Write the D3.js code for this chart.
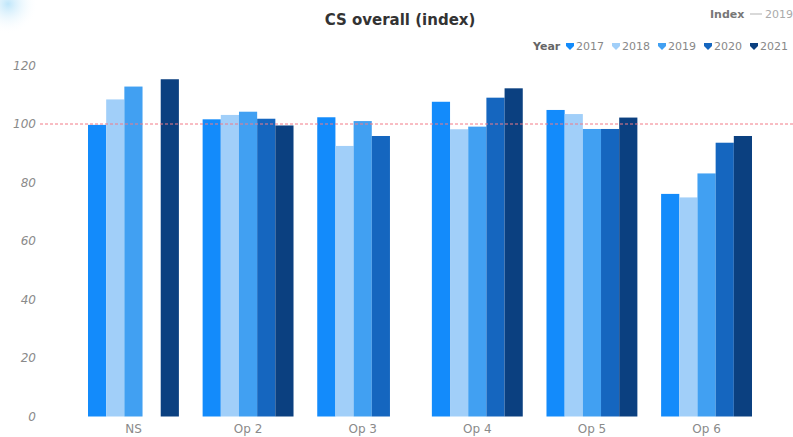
<!DOCTYPE html>
<html><head><meta charset="utf-8">
<script src="https://cdn.jsdelivr.net/npm/d3@7"></script>
<style>
body{margin:0;background:#fff;}
svg{display:block;font-family:"DejaVu Sans",sans-serif;}
</style></head>
<body><svg id="c" width="793" height="437"></svg>
<script>
const categories = ["NS","Op 2","Op 3","Op 4","Op 5","Op 6"];
const years = ["2017","2018","2019","2020","2021"];
const v2017 = [99.7, 101.6, 102.3, 107.6, 104.8, 76.1];
const v2018 = [108.4, 103.1, 92.5, 98.2, 103.4, 74.9];
const v2019 = [112.8, 104.2, 101.0, 99.1, 98.3, 83.1];
const v2020 = [null, 101.8, 95.9, 109.0, 98.3, 93.6];
const v2021 = [115.3, 99.5, null, 112.2, 102.2, 95.9];
const yTicks = [0,20,40,60,80,100,120];
const indexValue = 100;
const colors = ["#138bfb","#a1cff9","#41a0f2","#1566bf","#0b4080"];

const series = [v2017,v2018,v2019,v2020,v2021];
const svg = d3.select("#c");

// decorative blob top-left
const defs = svg.append("defs");
const rg = defs.append("radialGradient").attr("id","blob");
rg.append("stop").attr("offset","0%").attr("stop-color","#bfe6fa");
rg.append("stop").attr("offset","100%").attr("stop-color","#ffffff").attr("stop-opacity",0);
svg.append("circle").attr("cx",8).attr("cy",4).attr("r",30).attr("fill","url(#blob)");

const x0 = d3.scaleBand().domain(categories).range([88,752]).paddingInner(0.207).paddingOuter(0);
const x1 = d3.scaleBand().domain(years).range([0,x0.bandwidth()]).padding(0);
const y = d3.scaleLinear().domain([0,120]).range([416.5,65.5]);

// y axis
const yAxis = d3.axisLeft(y).tickValues(yTicks).tickSize(0).tickPadding(0);
const yg = svg.append("g").attr("transform","translate(36,0)").call(yAxis);
yg.select(".domain").remove();
yg.selectAll("text").attr("fill","#8a8a8a").style("font-size","12px").style("font-family","'DejaVu Sans',sans-serif").style("font-style","italic");

// bars
const groups = svg.append("g").selectAll("g").data(categories).join("g")
  .attr("transform",d=>`translate(${x0(d)},0)`);
groups.selectAll("rect").data((c,i)=>years.map((yr,j)=>({yr,j,v:series[j][i]})).filter(d=>d.v!=null))
  .join("rect")
  .attr("x",d=>x1(d.yr)).attr("width",x1.bandwidth())
  .attr("y",d=>y(d.v)).attr("height",d=>y(0)-y(d.v))
  .attr("fill",d=>colors[d.j]);

// reference line
svg.append("line").attr("x1",40).attr("x2",793).attr("y1",y(indexValue)).attr("y2",y(indexValue))
  .attr("stroke","#f27a86").attr("stroke-width",1).attr("stroke-dasharray","3,2");

// x axis
const xAxis = d3.axisBottom(x0).tickSize(0).tickPadding(0);
const xg = svg.append("g").attr("transform",`translate(0,${y(0)+8})`).call(xAxis);
xg.select(".domain").remove();
xg.selectAll("text").attr("fill","#8a8a8a").style("font-size","12px").style("font-family","'DejaVu Sans',sans-serif");

// title
svg.append("text").attr("x",400).attr("y",25).attr("text-anchor","middle")
  .attr("fill","#333").style("font-size","15px").style("font-weight","bold").text("CS overall (index)");

// Index legend
svg.append("text").attr("x",710).attr("y",18).attr("fill","#777").style("font-size","11px").style("font-weight","bold").text("Index");
svg.append("line").attr("x1",750).attr("x2",762).attr("y1",14).attr("y2",14).attr("stroke","#ccc").attr("stroke-width",1.5);
svg.append("text").attr("x",765).attr("y",18).attr("fill","#aaa").style("font-size","11px").text("2019");

// Year legend
svg.append("text").attr("x",533).attr("y",50).attr("fill","#666").style("font-size","11px").style("font-weight","bold").text("Year");
const lg = svg.append("g").selectAll("g").data(years).join("g")
  .attr("transform",(d,i)=>`translate(${570+i*46},46)`);
lg.append("path").attr("d","M-4,-3 L4,-3 L4,0 L0,4 L-4,0 Z").attr("fill",(d,i)=>colors[i]);
lg.append("text").attr("x",6).attr("y",4).attr("fill","#888").style("font-size","11px").text(d=>d);
</script>
</body></html>
